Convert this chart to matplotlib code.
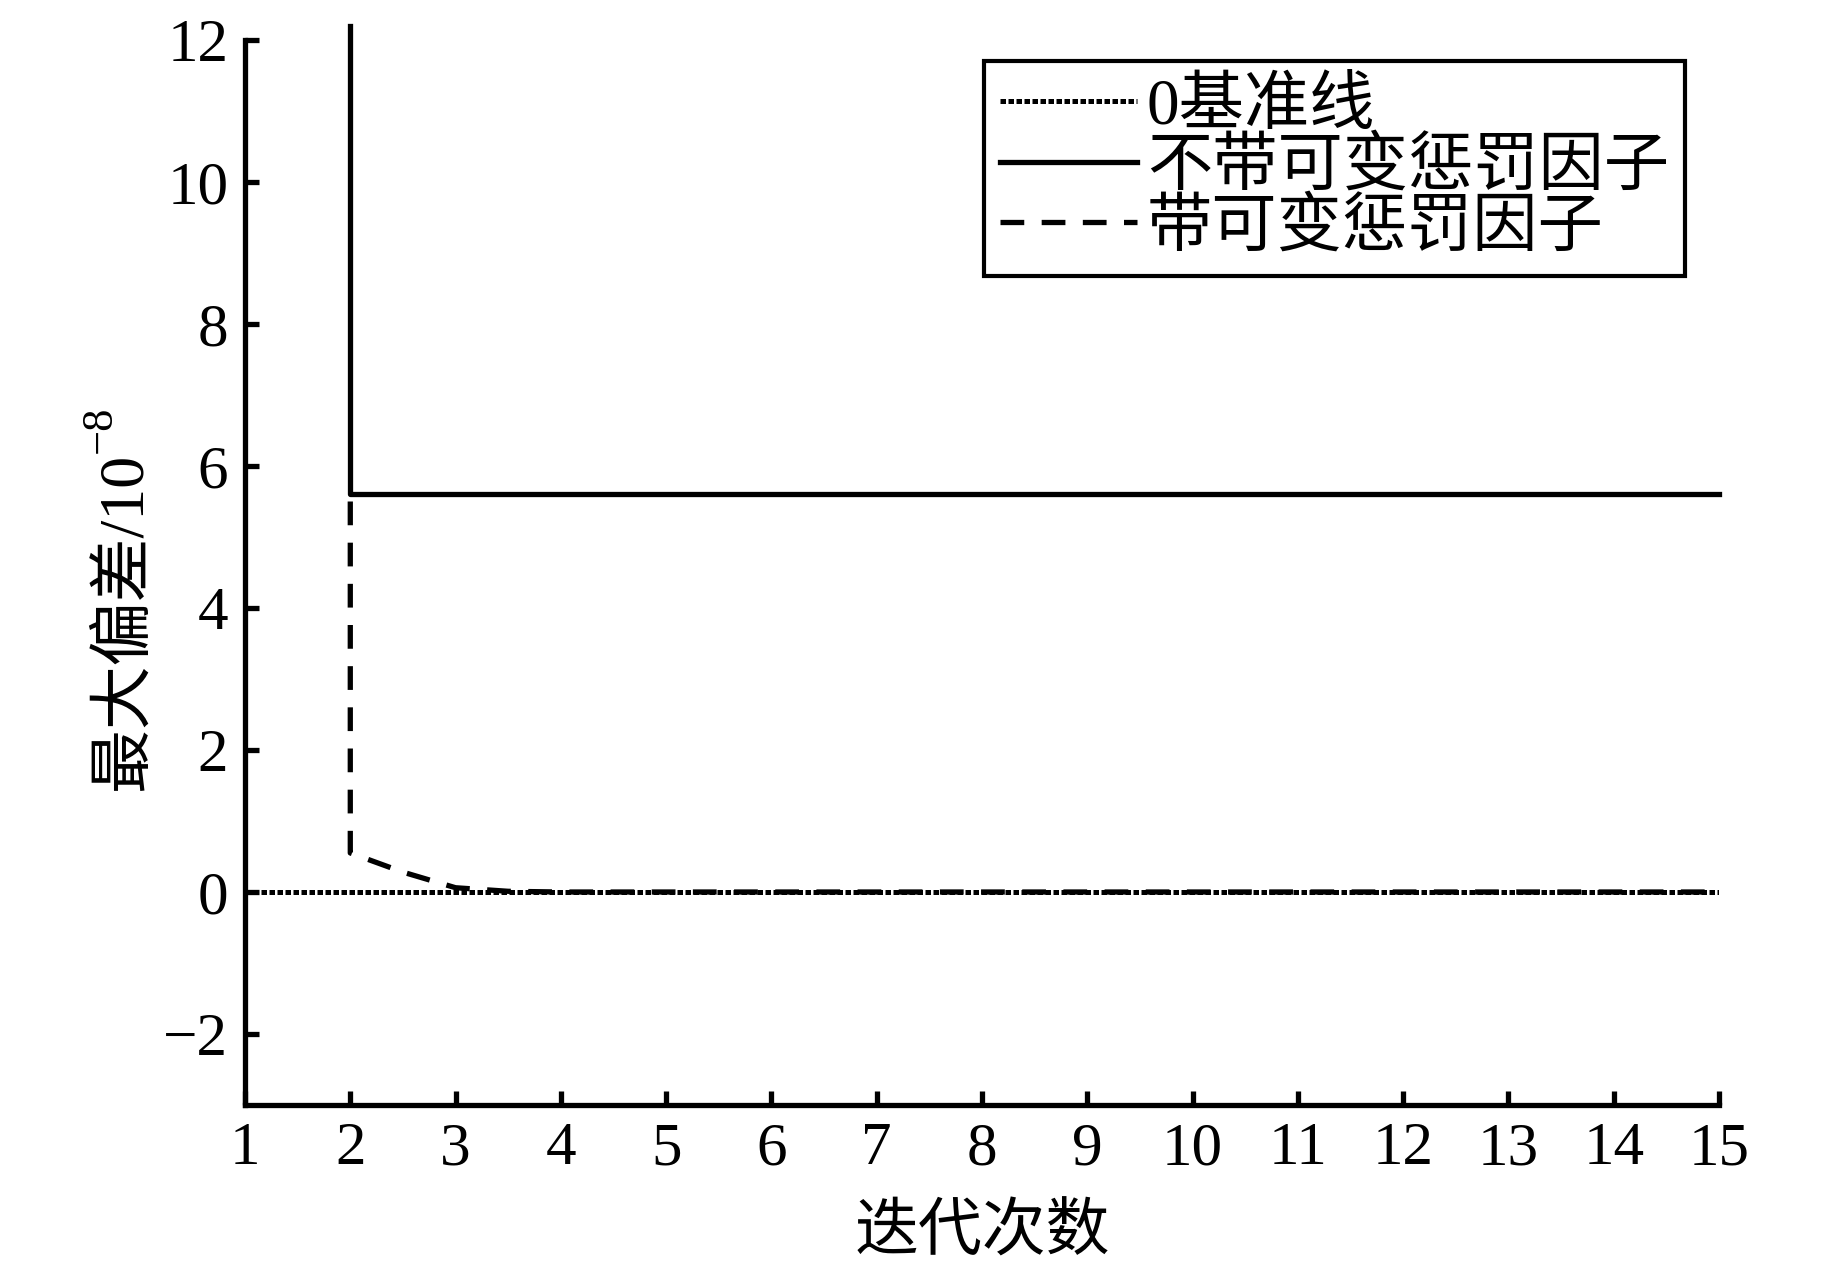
import matplotlib
matplotlib.use("Agg")
import matplotlib.pyplot as plt

plt.rcParams['font.family'] = ['Liberation Serif', 'Noto Sans CJK SC']

# data
base_x = [1, 15]
base_y = [0, 0]

fixed_x = [2, 2, 15]
fixed_y = [12.2, 5.6, 5.6]

var_x = [2, 2, 2.5, 3, 3.5, 4, 15]
var_y = [5.5, 0.55, 0.28, 0.06, 0.01, 0.0, 0.0]

xticks = list(range(1, 16))
yticks = [-2, 0, 2, 4, 6, 8, 10, 12]

W, H = 1843, 1275
fig = plt.figure(figsize=(W / 100, H / 100), dpi=100)
ax = fig.add_axes([245 / W, 1 - 1105 / H, (1719 - 245) / W, (1105 - 40) / H])

ax.plot(base_x, base_y, color='black', lw=3.6, linestyle=(0, (1.1, 0.5)), label='0基准线', zorder=3)
ax.plot(fixed_x, fixed_y, color='black', lw=3.8, label='不带可变惩罚因子', clip_on=False)
ax.plot(var_x, var_y, color='black', lw=3.8, linestyle=(0, (4.5, 3.3)), label='带可变惩罚因子')

ax.set_xlim(1, 15)
ax.set_ylim(-3, 12)
ax.set_xticks(xticks)
ax.set_yticks(yticks)
ax.set_yticklabels(['\u22122' if t == -2 else str(t) for t in yticks])

for s in ['top', 'right']:
    ax.spines[s].set_visible(False)
for s in ['left', 'bottom']:
    ax.spines[s].set_linewidth(3.8)

ax.tick_params(direction='in', length=10, width=3.8, labelsize=44, pad=12)

ax.set_xlabel('迭代次数', fontsize=46, labelpad=20)

# y label with a superscript exponent
ylab = fig.text(125 / W, 1 - 790 / H, '最大偏差/10', rotation=90,
                ha='center', va='bottom', fontsize=46)

leg = ax.legend(loc='upper right', bbox_to_anchor=(0.977, 0.98), borderaxespad=0,
                fontsize=47, handlelength=2.1, handletextpad=0.15, labelspacing=0.0,
                borderpad=0.25, fancybox=False, edgecolor='black', framealpha=1)
leg.get_frame().set_linewidth(3)

fig.canvas.draw()
bb = ylab.get_window_extent(fig.canvas.get_renderer())
fig.text(100 / W, bb.y1 / H, '\u22128', rotation=90, ha='center', va='bottom', fontsize=32)

fig.savefig('out.png', dpi=100)
